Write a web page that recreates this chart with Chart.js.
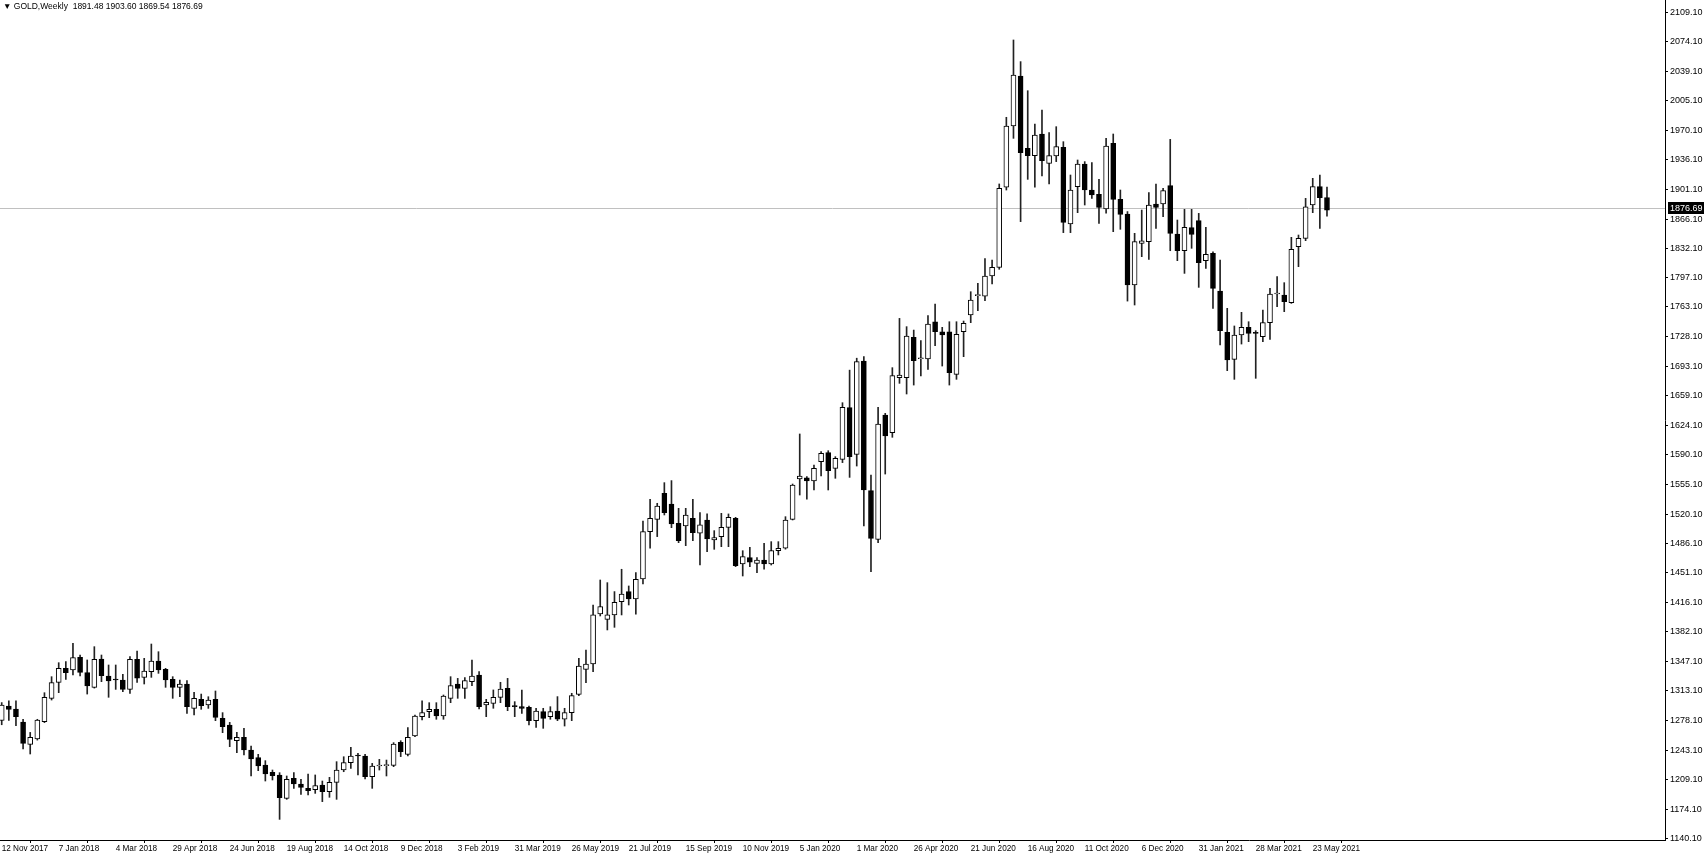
<!DOCTYPE html>
<html>
<head>
<meta charset="utf-8">
<title>GOLD,Weekly</title>
<script src="https://cdn.jsdelivr.net/npm/chart.js@4"></script>
<style>
    html, body { margin: 0; padding: 0; background: #fff; }
    #wrap { position: relative; width: 1706px; height: 857px; }
    #caption { position: absolute; left: 3px; top: 1px; font: 8.5px "Liberation Sans", Arial, sans-serif; color: #000; white-space: pre; }
</style>
</head>
<body>
<div id="wrap">
    <canvas id="chart" width="1706" height="857"></canvas>
    <div id="caption">&#9660; GOLD,Weekly  1891.48 1903.60 1869.54 1876.69</div>
</div>
<script>
// weekly bars, 12 Nov 2017 .. 6 Jun 2021
var opens = [1278,1295,1291.5,1276,1250,1256.3,1276.6,1304,1322.8,1339.1,1337.2,1352.1,1334.1,1316.9,1350.1,1330.2,1326.3,1325.5,1314.5,1349.7,
    1328.6,1335.3,1347.8,1338,1326.3,1316.9,1320.8,1292.3,1302.8,1296.2,1302.8,1280.5,1272.7,1254.3,1258.2,1243.4,1234.4,1225.8,1217.2,1214.1,
    1186.7,1210.1,1203.5,1198.4,1196.8,1202.3,1194.5,1205.4,1219.9,1228.5,1236.7,1236.3,1212.1,1224.6,1225,1225.4,1252.4,1238.3,1259.8,1282.5,
    1288.4,1291.1,1283.3,1304,1320.8,1315.7,1323.5,1331.4,1296.2,1298.1,1305.2,1315.7,1294.6,1294.2,1293.4,1277.8,1288.4,1282.5,1289.1,1279.4,
    1287.2,1308.7,1338,1344.3,1403,1396.7,1401.8,1417.4,1429.2,1420.5,1444,1499.5,1514,1544.5,1532,1509.3,1506.2,1515.2,1497.6,1513.2,
    1489.8,1493.7,1504.6,1515.2,1461.6,1469,1462.4,1466.3,1461.6,1477.2,1480,1514,1561.3,1562.8,1559,1581.6,1592.2,1573.8,1584.4,1645,
    1590,1699.7,1547.6,1490.5,1636.4,1615.6,1680.1,1680.1,1727.5,1702.4,1702.1,1745.8,1734,1734,1684.1,1734,1753.7,1776.4,1775.9,1799.4,
    1809.6,1903.5,1975.4,2034,1949.2,1940.6,1966,1931.6,1940.2,1950.4,1860.4,1904.2,1930.8,1900.3,1895.2,1878,1955,1889.4,1872.2,1788.9,
    1837.7,1839.7,1883.9,1883.9,1905.4,1848.7,1829.1,1856.1,1864.3,1817.4,1826,1781.8,1733.3,1701.6,1730.2,1739.2,1732.6,1728.3,1744.7,1778.3,
    1777.1,1768.1,1833.8,1843.6,1882.7,1904.2,1891.48];
var highs = [1299,1301,1301,1279.4,1264,1279.4,1310.6,1329.4,1345.8,1347,1368.5,1354.8,1349,1364.6,1354.8,1343.1,1343.1,1332.1,1352.9,1359.5,
    1350.9,1367.7,1358.7,1339.2,1329.4,1325.5,1324.7,1311,1309,1305.9,1312.6,1287.2,1275.8,1264.1,1268.8,1248,1238.3,1230.9,1219.9,1216.8,
    1212.9,1216.8,1209,1215.2,1214.1,1207,1211.3,1229.7,1235.5,1246.5,1239.5,1238.3,1227.7,1232.4,1231.6,1252,1254.3,1269.6,1284.4,1301.2,
    1298.9,1298.9,1307.9,1329.4,1327.4,1328.2,1348.9,1335.3,1302.8,1313.8,1322.8,1327.4,1300.1,1313.8,1295,1292.3,1292.3,1294.2,1306,1292.3,
    1309.9,1350.9,1360.7,1413.5,1442.8,1439.7,1429.2,1455.4,1435.8,1451.4,1512,1537.5,1532.8,1557,1559.4,1526.9,1526.9,1537.5,1521.8,1520.3,
    1500.7,1521,1520.3,1516.3,1477.2,1481.2,1469,1485.8,1487.8,1487.8,1517.1,1555.4,1614.1,1564,1577.7,1593.4,1594.5,1587.5,1650.8,1689,
    1703,1704.8,1566,1645.4,1638.3,1691.9,1749.7,1740,1736,1723.6,1752.9,1766.6,1739.2,1745.8,1745.8,1746.6,1781,1790.8,1820,1818.2,
    1907.4,1985.6,2076.3,2050.9,2016.8,1977.7,1994.2,1967.6,1974.6,1957,1917.9,1935.5,1933.6,1932.4,1912.8,1960.9,1966,1900.3,1875,1849.5,
    1876.8,1897.2,1907.3,1902.3,1959.7,1865.1,1877.6,1877.6,1872.9,1856.5,1827.9,1818.2,1761.5,1740.8,1756.8,1745.8,1735.3,1759.5,1784.9,1798.6,
    1791.6,1844.8,1847.5,1890.5,1914,1917.9,1903.6];
var lows = [1273,1278,1272,1244.6,1238.7,1255,1275.5,1302,1310.6,1326.3,1331.4,1330.2,1309,1316,1323.5,1305.2,1314.5,1311.8,1309.8,1322.8,
    1320.8,1328.6,1333.3,1316.9,1304,1306,1286.4,1284.5,1291.1,1292.2,1277.8,1263.7,1247.3,1240.2,1237.5,1212.9,1219.1,1207,1208.2,1162,
    1185.5,1198.4,1191.4,1190.6,1192.5,1182.8,1187.9,1185.5,1217.9,1221.9,1214,1209.4,1198.4,1219.9,1212.9,1223.8,1235.6,1236.3,1259,1278.6,
    1281.3,1279.4,1279.4,1298.9,1304,1304,1318.9,1291.5,1282.5,1292.3,1298.9,1289.5,1282.5,1286.4,1272.7,1270,1268.8,1279.4,1277.8,1271.5,
    1277.8,1307.1,1322.4,1335.3,1400.6,1384.2,1387.3,1401.8,1413.5,1402.6,1438.1,1480,1493.7,1519.1,1504.2,1486.6,1483.1,1489,1460.4,1476.1,
    1478.8,1481.9,1481.9,1458.5,1447.5,1458.5,1451.4,1455.4,1460.4,1472.2,1479,1513.2,1542.5,1537.5,1548.4,1564.8,1548.4,1562.1,1580.5,1563.2,
    1576.5,1506.2,1452.6,1486.6,1567.1,1610.2,1673.5,1661,1671.5,1682.1,1689.9,1717.7,1693.8,1671.5,1678.2,1704.8,1744.7,1758.7,1770.5,1790,
    1807.3,1900.3,1960.9,1863.2,1912.8,1903.5,1916.7,1907.4,1933.6,1850.3,1850.3,1873.7,1882.7,1890.5,1861.2,1873,1851.4,1854.2,1770,1765.4,
    1822.1,1819,1855.3,1869,1829.1,1817.4,1802.5,1831.9,1786.1,1808.4,1761.5,1718.5,1688.4,1678.2,1719.6,1722.4,1679.4,1722.4,1725.1,1763.4,
    1757.6,1767.3,1810.4,1840.9,1873.7,1855.3,1869.54];
var closes = [1296,1291,1282.5,1251.2,1258.2,1278.6,1305.2,1322.4,1339.1,1334.1,1351.7,1334.5,1318.5,1349.7,1330.6,1324.3,1325.5,1314.5,1349.7,1327.5,
    1336.1,1347.8,1337.2,1325.5,1316.9,1320.8,1294.2,1304,1295.4,1302,1281.7,1270.8,1255.9,1258.2,1243.4,1232.8,1224.6,1215.2,1213.3,1187.5,
    1209,1203.5,1199.6,1195.7,1201.5,1194.5,1205.4,1219.9,1228.5,1236.3,1236.3,1212.1,1224.6,1225,1225.4,1250.4,1241.4,1258.2,1283.3,1287.2,
    1291.1,1283.3,1306.7,1318.9,1315.7,1324.7,1330.2,1294.2,1299.3,1305.2,1314.9,1294.2,1294.2,1292.3,1277.8,1289.1,1280.5,1288.4,1279.4,1287.2,
    1307.1,1341.9,1344.3,1401.8,1411.6,1401.8,1416.6,1426.4,1420.5,1443.6,1499.5,1515.2,1529.6,1521.8,1508.5,1489,1519.1,1498.4,1507.4,1490.9,
    1492.5,1504.6,1516.3,1459.7,1470.2,1463.6,1466.3,1461.6,1477.2,1480,1513.2,1554.3,1564.8,1559,1573.8,1591.4,1571.1,1585.5,1645.4,1587.5,
    1699,1548.4,1491.7,1625.8,1611.7,1682.5,1683.3,1729,1700.1,1703,1743.1,1734,1730.2,1686,1730.9,1743.9,1771.2,1776.9,1799.4,1809.6,
    1902.3,1975.4,2035.2,1944.1,1940.6,1964.8,1934.7,1940.6,1951.2,1862.4,1900.3,1930.8,1900.3,1894.5,1880,1951.9,1889.4,1871.8,1788.9,1839.7,
    1840.7,1882.7,1880,1899.5,1849.5,1829.1,1856.5,1848.3,1815,1824.8,1784.9,1735.3,1700.9,1730.2,1739.2,1732.2,1732.2,1744.7,1778.3,1778.7,
    1769.3,1830.7,1843.6,1880.7,1904.2,1891.3,1876.69];

// date axis: a label every 8 bars
var dateLabels = ["12 Nov 2017","7 Jan 2018","4 Mar 2018","29 Apr 2018","24 Jun 2018","19 Aug 2018","14 Oct 2018","9 Dec 2018",
    "3 Feb 2019","31 Mar 2019","26 May 2019","21 Jul 2019","15 Sep 2019","10 Nov 2019","5 Jan 2020","1 Mar 2020",
    "26 Apr 2020","21 Jun 2020","16 Aug 2020","11 Oct 2020","6 Dec 2020","31 Jan 2021","28 Mar 2021","23 May 2021"];
var dateStep = 8;
var priceLabels = ["1140.10","1174.10","1209.10","1243.10","1278.10","1313.10","1347.10","1382.10","1416.10","1451.10",
    "1486.10","1520.10","1555.10","1590.10","1624.10","1659.10","1693.10","1728.10","1763.10","1797.10",
    "1832.10","1866.10","1901.10","1936.10","1970.10","2005.10","2039.10","2074.10","2109.10"];
var bidPrice = 1876.69;

(function(){
    var bodies = closes.map((c, i) => ({x: i, y: [opens[i], c]}));
    var wicks = highs.map((h, i) => ({x: i, y: [lows[i], h]}));
    var bodyFill = closes.map((c, i) => c >= opens[i] ? "#ffffff" : "#000000");

    var bidLine = {
        id: "bidLine",
        beforeDatasetsDraw(chart){
            var ctx = chart.ctx, a = chart.chartArea;
            var y = Math.round(chart.scales.y.getPixelForValue(bidPrice)) - 1.5;
            ctx.save();
            ctx.strokeStyle = "#c0c0c0";
            ctx.lineWidth = 1;
            ctx.beginPath();
            ctx.moveTo(a.left, y);
            ctx.lineTo(a.right, y);
            ctx.stroke();
            ctx.restore();
        },
        afterDraw(chart){
            var ctx = chart.ctx, a = chart.chartArea;
            var y = Math.round(chart.scales.y.getPixelForValue(bidPrice)) - 2;
            ctx.save();
            ctx.fillStyle = "#000";
            ctx.fillRect(a.right + 3, y - 6, 36, 12);
            ctx.fillStyle = "#fff";
            ctx.font = "9px 'Liberation Sans', Arial, sans-serif";
            ctx.textBaseline = "middle";
            ctx.fillText(bidPrice.toFixed(2), a.right + 5, y + 0.5);
            ctx.restore();
        }
    };

    new Chart(document.getElementById("chart"), {
        type: "bar",
        data: {
            datasets: [{
                label: "body",
                data: bodies,
                order: 0,
                grouped: false,
                barThickness: 5,
                minBarLength: 1,
                backgroundColor: bodyFill,
                borderColor: "#000",
                borderWidth: 1,
                borderSkipped: false
            }, {
                label: "wick",
                data: wicks,
                order: 1,
                grouped: false,
                barThickness: 1,
                backgroundColor: "#222",
                borderWidth: 0
            }]
        },
        options: {
            responsive: false,
            devicePixelRatio: 1,
            animation: false,
            layout: { padding: 0 },
            plugins: { legend: { display: false }, tooltip: { enabled: false } },
            scales: {
                x: {
                    type: "linear",
                    position: "bottom",
                    offset: false,
                    min: -0.24,
                    max: 233.44,
                    afterBuildTicks: s => { s.ticks = dateLabels.map((d, k) => ({value: k * dateStep})); },
                    afterFit: s => { s.height = 17; s.paddingLeft = 0; s.paddingRight = 0; },
                    grid: { display: true, drawOnChartArea: false, drawTicks: true, tickLength: 3, color: "#000" },
                    border: { display: true, color: "#000", width: 1 },
                    ticks: {
                        autoSkip: false,
                        maxRotation: 0,
                        align: "start",
                        padding: 1,
                        labelOffset: 0,
                        color: "#000",
                        font: { family: "'Liberation Sans', Arial, sans-serif", size: 8.2 },
                        callback: (v, k) => dateLabels[k]
                    }
                },
                y: {
                    type: "linear",
                    position: "right",
                    beginAtZero: false,
                    min: 1137.8,
                    max: 2123.2,
                    afterBuildTicks: s => { s.ticks = priceLabels.map(t => ({value: parseFloat(t)})); },
                    afterFit: s => { s.width = 41; s.paddingTop = 0; s.paddingBottom = 0; },
                    grid: { display: true, drawOnChartArea: false, drawTicks: true, tickLength: 3, color: "#000" },
                    border: { display: true, color: "#000", width: 1 },
                    ticks: {
                        padding: 2,
                        color: "#000",
                        font: { family: "'Liberation Sans', Arial, sans-serif", size: 9 },
                        callback: (v, k) => priceLabels[k]
                    }
                }
            }
        },
        plugins: [bidLine]
    });
})();
</script>
</body>
</html>
